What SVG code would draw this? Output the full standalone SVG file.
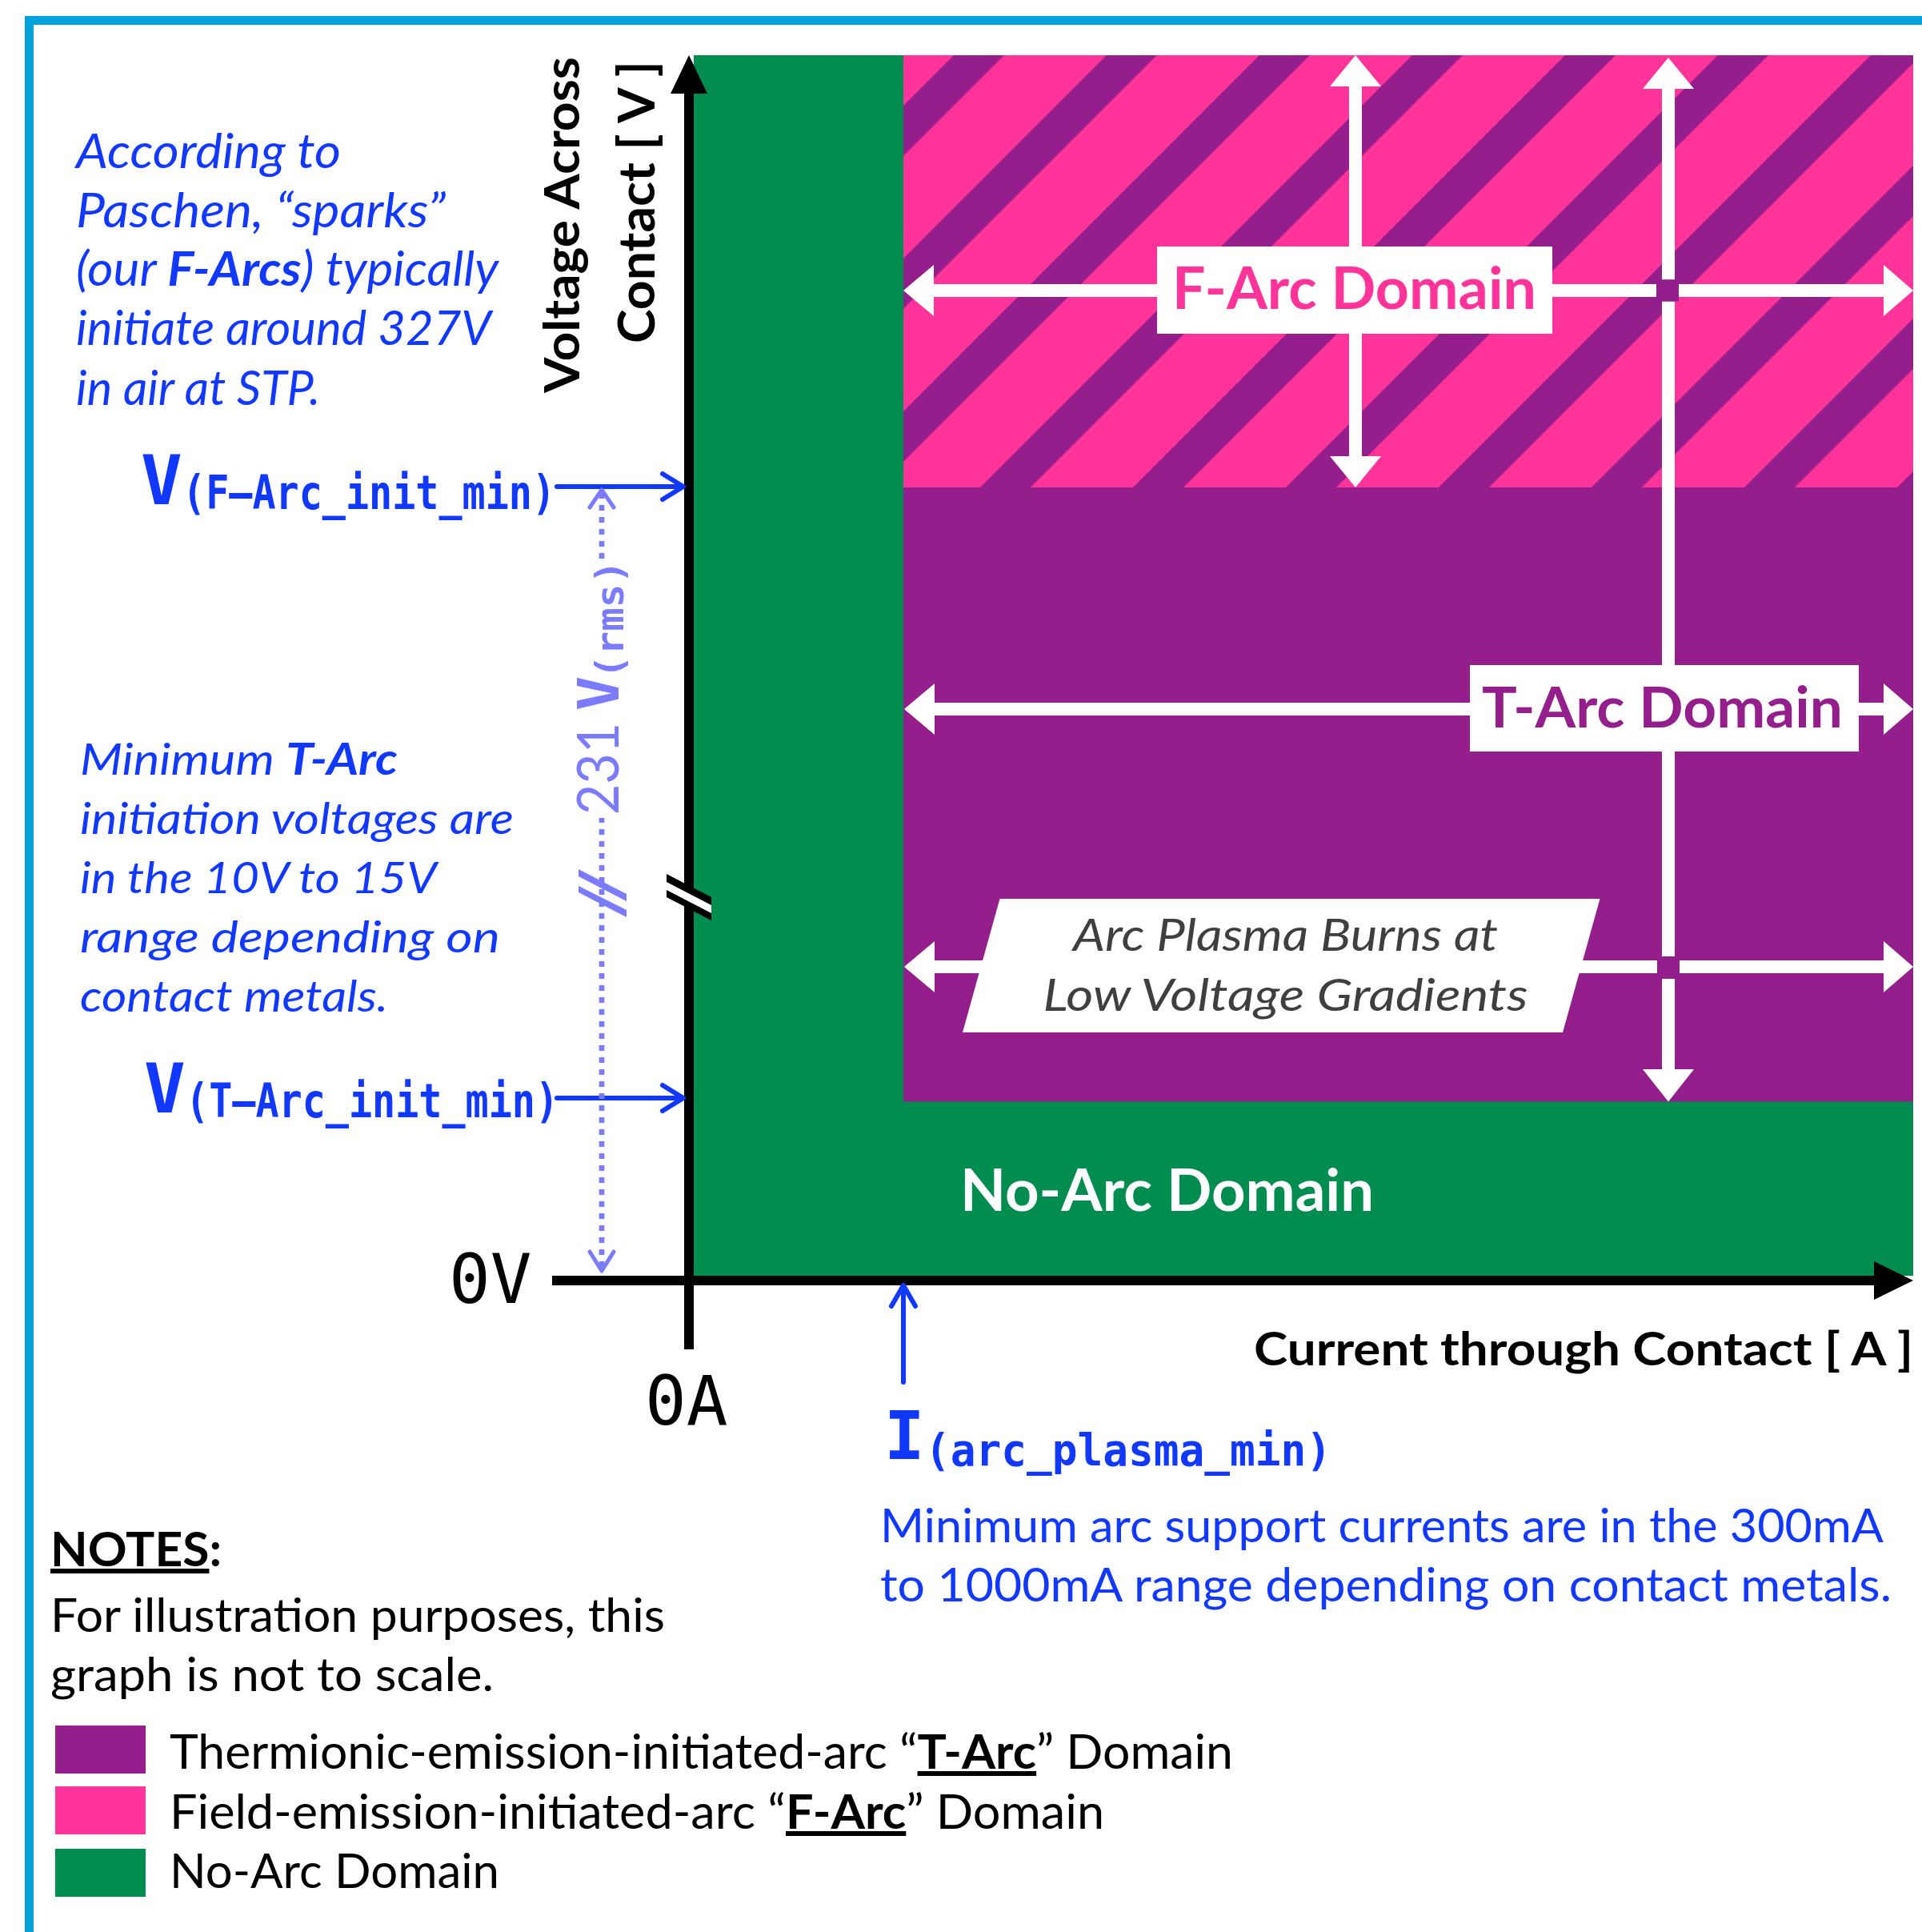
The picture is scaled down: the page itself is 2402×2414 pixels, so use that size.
<svg xmlns="http://www.w3.org/2000/svg" width="2402" height="2414" viewBox="0 0 2402 2414">
<defs>
<style>
.sans{font-family:Lato,"Liberation Sans",sans-serif}
.mono{font-family:"DejaVu Sans Mono","Liberation Mono",monospace;font-weight:700}
.monor{font-family:"DejaVu Sans Mono","Liberation Mono",monospace;font-weight:400}
.blue{fill:#1038FF}
.lblue{fill:#7B7BFF}
.it{font-style:italic}
.b{font-weight:700}
.wline{stroke:#FFFFFF;stroke-width:16;fill:none}
.whead{fill:#FFFFFF}
.bline{stroke:#1038FF;stroke-width:6;fill:none;stroke-linecap:round;stroke-linejoin:round}
.lbline{stroke:#7B7BFF;stroke-width:5;fill:none;stroke-linecap:round;stroke-linejoin:round}
</style>
<pattern id="hatch" patternUnits="userSpaceOnUse" width="135.06" height="20" patternTransform="rotate(45)">
<rect width="135.06" height="20" fill="#FF3399"/>
<rect x="81.3" width="44.5" height="20" fill="#931E8C"/>
</pattern>
</defs>
<rect width="2402" height="2414" fill="#FFFFFF"/>
<rect id="frame" x="36.5" y="25.5" width="2500" height="2500" fill="none" stroke="#00A2DB" stroke-width="11"/>

<g id="regions">
<rect id="no-arc-region" x="867" y="69" width="1524" height="1525" fill="#008D4F"/>
<rect id="f-arc-region" x="1129" y="69" width="1262" height="540" fill="url(#hatch)"/>
<rect id="t-arc-region" x="1129" y="609" width="1262" height="767.5" fill="#931E8C"/>
</g>

<g id="axes">
<rect x="855" y="115" width="12" height="1571" fill="#000"/>
<polygon points="861,69 884,117 838,117" fill="#000"/>
<rect x="690" y="1594" width="1654" height="12" fill="#000"/>
<polygon points="2391,1600 2342,1576 2342,1624" fill="#000"/>
<polygon points="833,1092 889,1121 889,1150 833,1121" fill="#000"/>
<polygon points="833,1102 889,1131 889,1141 833,1112" fill="#FFFFFF"/>
<text class="monor" x="561" y="1628" font-size="86" fill="#000">0V</text>
<text class="monor" x="806" y="1780" font-size="86" fill="#000">0A</text>
<text class="sans b" transform="translate(724,491) rotate(-90)" font-size="62" textLength="420" lengthAdjust="spacingAndGlyphs" fill="#000">Voltage Across</text>
<text class="sans b" transform="translate(818,429) rotate(-90)" font-size="63" textLength="353" lengthAdjust="spacingAndGlyphs" fill="#000">Contact [ V ]</text>
<text class="sans b" x="1567" y="1706" font-size="58" textLength="824" lengthAdjust="spacingAndGlyphs" fill="#000">Current through Contact [ A ]</text>
</g>

<g id="connectors">
<path class="wline" d="M1694 106 V572"/>
<polygon class="whead" points="1694,69 1726,108 1662,108"/>
<polygon class="whead" points="1694,609 1726,570 1662,570"/>
<path class="wline" d="M1164 363 H2070 M2098 363 H2356"/>
<polygon class="whead" points="1129,363 1167,331 1167,395"/>
<polygon class="whead" points="2391,363 2354,331 2354,395"/>
<path class="wline" d="M2085 109 V349.5 M2085 376.5 V1195 M2085 1223 V1338"/>
<polygon class="whead" points="2085,72 2117,111 2053,111"/>
<polygon class="whead" points="2085,1376.5 2117,1336 2053,1336"/>
<rect x="2070" y="349.5" width="28" height="27" fill="#931E8C"/>
<path class="wline" d="M1167 886 H2356"/>
<polygon class="whead" points="1130,886 1168,854 1168,918"/>
<polygon class="whead" points="2391,886 2354,854 2354,918"/>
<path class="wline" d="M1167 1208 H2071 M2099 1208 H2356"/>
<polygon class="whead" points="1130,1208 1168,1176 1168,1240"/>
<polygon class="whead" points="2391,1208 2354,1176 2354,1240"/>
<path class="bline" d="M696 608 H853 M828 592 L854 608 L828 624"/>
<path class="bline" d="M696 1372 H853 M828 1356 L854 1372 L828 1388"/>
<path class="bline" d="M1129 1727 V1608 M1114 1632 L1129 1606 L1144 1632"/>
<path d="M752 616 V1586" stroke="#7B7BFF" stroke-width="6.7" stroke-dasharray="7 8" fill="none"/>
<path class="lbline" d="M737 634 L752 612 L767 634 M737 1564 L752 1588 L767 1564"/>
<polygon class="lblue" points="723,1086 783,1117 783,1126 723,1095"/>
<polygon class="lblue" points="723,1107 783,1137 783,1146 723,1115"/>
</g>

<g id="label-231v">
<rect x="716" y="704" width="76" height="318" fill="#FFFFFF"/>
<g transform="translate(773,1018) rotate(-90)" class="lblue">
<text class="sans" x="0" y="0" font-size="72" textLength="115" lengthAdjust="spacingAndGlyphs">231</text>
<text class="mono" x="130" y="0" font-size="72">V</text>
<text class="mono" x="170" y="5.5" font-size="48" textLength="148" lengthAdjust="spacingAndGlyphs">(rms)</text>
</g>
</g>

<g id="label-f-arc">
<rect x="1446" y="308" width="494" height="109" fill="#FFFFFF"/>
<text class="sans b" x="1465" y="386" font-size="72" textLength="455" lengthAdjust="spacingAndGlyphs" fill="#FF3399">F-Arc Domain</text>
</g>

<g id="label-t-arc">
<rect x="1837" y="831" width="486" height="108" fill="#FFFFFF"/>
<text class="sans b" x="1852" y="909" font-size="71" textLength="451" lengthAdjust="spacingAndGlyphs" fill="#931E8C">T-Arc Domain</text>
</g>

<g id="label-plasma">
<polygon points="1249.5,1123 1999.5,1123 1953,1290 1203,1290" fill="#FFFFFF"/>
<text class="sans it" x="1341" y="1188" font-size="57" textLength="531" lengthAdjust="spacingAndGlyphs" fill="#3F3F3F">Arc Plasma Burns at</text>
<text class="sans it" x="1303.5" y="1263" font-size="57" textLength="606" lengthAdjust="spacingAndGlyphs" fill="#3F3F3F">Low Voltage Gradients</text>
</g>

<g id="label-no-arc">
<text class="sans b" x="1200" y="1513" font-size="72" textLength="517" lengthAdjust="spacingAndGlyphs" fill="#FFFFFF">No-Arc Domain</text>
</g>

<g id="label-v-f-arc" class="blue">
<text class="mono" x="176" y="630" font-size="86">V</text>
<text class="mono" x="228" y="636" font-size="58" textLength="466" lengthAdjust="spacingAndGlyphs">(F–Arc_init_min)</text>
</g>

<g id="label-v-t-arc" class="blue">
<text class="mono" x="180" y="1390" font-size="86">V</text>
<text class="mono" x="232" y="1396" font-size="58" textLength="466" lengthAdjust="spacingAndGlyphs">(T–Arc_init_min)</text>
</g>

<g id="label-i-plasma" class="blue">
<text class="mono" x="1105" y="1823" font-size="84">I</text>
<text class="mono" x="1156" y="1831" font-size="55" textLength="508" lengthAdjust="spacingAndGlyphs">(arc_plasma_min)</text>
</g>

<g id="note-paschen" class="sans it blue" font-size="60">
<text x="95" y="210" textLength="331" lengthAdjust="spacingAndGlyphs">According to</text>
<text x="95" y="284" textLength="462" lengthAdjust="spacingAndGlyphs">Paschen, “sparks”</text>
<text x="95" y="357" textLength="528" lengthAdjust="spacingAndGlyphs">(our <tspan font-weight="700">F-Arcs</tspan>) typically</text>
<text x="95" y="431" textLength="519" lengthAdjust="spacingAndGlyphs">initiate around 327V</text>
<text x="95" y="506" textLength="305" lengthAdjust="spacingAndGlyphs">in air at STP.</text>
</g>

<g id="note-t-arc" class="sans it blue" font-size="55">
<text x="100" y="968" textLength="397" lengthAdjust="spacingAndGlyphs">Minimum <tspan font-weight="700">T-Arc</tspan></text>
<text x="100" y="1042" textLength="542" lengthAdjust="spacingAndGlyphs">initiation voltages are</text>
<text x="100" y="1116" textLength="446" lengthAdjust="spacingAndGlyphs">in the 10V to 15V</text>
<text x="100" y="1190" textLength="525" lengthAdjust="spacingAndGlyphs">range depending on</text>
<text x="100" y="1264" textLength="385" lengthAdjust="spacingAndGlyphs">contact metals.</text>
</g>

<g id="note-current" class="sans blue" font-size="58">
<text x="1100" y="1927" textLength="1254" lengthAdjust="spacingAndGlyphs">Minimum arc support currents are in the 300mA</text>
<text x="1100" y="2001" textLength="1264" lengthAdjust="spacingAndGlyphs">to 1000mA range depending on contact metals.</text>
</g>

<g id="notes" class="sans" fill="#000">
<text x="63" y="1957" font-size="60" font-weight="700" textLength="214" lengthAdjust="spacingAndGlyphs"><tspan text-decoration="underline">NOTES</tspan>:</text>
<text x="63" y="2039" font-size="58" textLength="768" lengthAdjust="spacingAndGlyphs">For illustration purposes, this</text>
<text x="63" y="2113" font-size="58" textLength="554" lengthAdjust="spacingAndGlyphs">graph is not to scale.</text>
</g>

<g id="legend" class="sans" fill="#000" font-size="60">
<rect x="69" y="2156" width="113" height="60" fill="#931E8C"/>
<rect x="69" y="2232" width="113" height="60" fill="#FF3399"/>
<rect x="69" y="2310" width="113" height="60" fill="#008D4F"/>
<text x="212" y="2210" textLength="1329" lengthAdjust="spacingAndGlyphs">Thermionic-emission-initiated-arc “<tspan font-weight="700" text-decoration="underline">T-Arc</tspan>” Domain</text>
<text x="212" y="2285" textLength="1168" lengthAdjust="spacingAndGlyphs">Field-emission-initiated-arc “<tspan font-weight="700" text-decoration="underline">F-Arc</tspan>” Domain</text>
<text x="212" y="2359" textLength="412" lengthAdjust="spacingAndGlyphs">No-Arc Domain</text>
</g>
</svg>
